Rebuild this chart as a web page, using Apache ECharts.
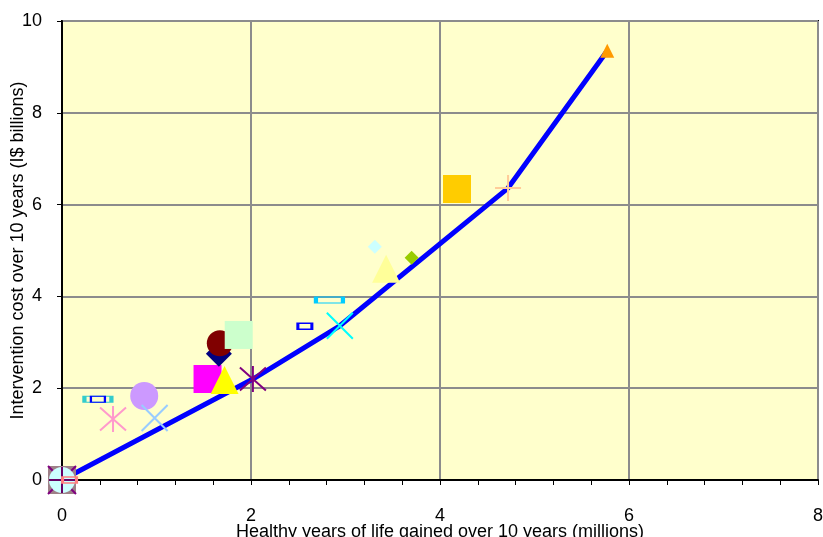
<!DOCTYPE html>
<html>
<head>
<meta charset="utf-8">
<script src="https://cdn.jsdelivr.net/npm/echarts@6/dist/echarts.min.js"></script>
<style>
  html, body { margin: 0; padding: 0; background: #ffffff; overflow: hidden; }
  #chart { width: 823px; height: 537px; }
</style>
</head>
<body>
<div id="chart"></div>
<script>
// Interventions: healthy years gained (millions) vs cost (I$ billions)
const healthyYears = [0, 0, 0, 0, 0.08, 0.38, 0.38, 0.54, 0.87, 0.98, 1.54, 1.72, 1.66, 1.67, 1.87, 2.02, 2.57, 2.83, 2.94, 3.31, 3.43, 3.70, 4.18, 4.72, 5.77];
const costBillions = [0, 0, 0, 0, 0, 1.76, 1.76, 1.33, 1.83, 1.35, 2.20, 2.18, 2.75, 2.98, 3.16, 2.20, 3.35, 3.92, 3.36, 5.08, 4.60, 4.84, 6.34, 6.36, 9.35];

// Expansion path of the most cost-effective combinations
const pathX = [0, 2.02, 2.94, 4.72, 5.77];
const pathY = [0, 2.20, 3.36, 6.36, 9.35];

// Axis ticks
const xTicks = [0, 2, 4, 6, 8];
const yTicks = [0, 2, 4, 6, 8, 10];

// Marker appearance, one entry per intervention
const X_PATH = 'path://M0,0L10,10M10,0L0,10';
const PLUS_PATH = 'path://M5,0L5,10M0,5L10,5';
const STAR_PATH = 'path://M5,0L5,10M0,0.6L10,9.4M10,0.6L0,9.4';
const markerStyles = [
  { symbol: 'rect', size: 28, fill: '#9e8088' },
  { symbol: X_PATH, size: 28, line: '#800080', lw: 2 },
  { symbol: 'circle', size: 26, fill: '#ccffff' },
  { symbol: PLUS_PATH, size: 26, line: '#660066', lw: 2 },
  { symbol: 'rect', size: [14, 6], line: '#ff8080', lw: 2 },
  { symbol: 'rect', size: [27, 6], line: '#33cccc', lw: 2 },
  { symbol: 'rect', size: [14, 6], line: '#0000ff', lw: 1.5 },
  { symbol: STAR_PATH, size: 26, line: '#ff99cc', lw: 2 },
  { symbol: 'circle', size: 28, fill: '#cc99ff' },
  { symbol: X_PATH, size: 26, line: '#99ccff', lw: 2 },
  { symbol: 'rect', size: 28, fill: '#ff00ff' },
  { symbol: 'triangle', size: 28, fill: '#ffff00' },
  { symbol: 'diamond', size: 26, fill: '#000080' },
  { symbol: 'circle', size: 26, fill: '#800000' },
  { symbol: 'rect', size: 28, fill: '#ccffcc' },
  { symbol: STAR_PATH, size: 26, line: '#800080', lw: 2 },
  { symbol: 'rect', size: [14, 6], line: '#0000ff', lw: 2 },
  { symbol: 'rect', size: [27, 6], line: '#00ccff', lw: 2 },
  { symbol: X_PATH, size: 26, line: '#00ffff', lw: 2 },
  { symbol: 'diamond', size: 14, fill: '#ccffff' },
  { symbol: 'triangle', size: 28, fill: '#ffff99' },
  { symbol: 'diamond', size: 14, fill: '#99cc00' },
  { symbol: 'rect', size: 28, fill: '#ffcc00' },
  { symbol: PLUS_PATH, size: 26, line: '#ffcc99', lw: 2 },
  { symbol: 'triangle', size: 14, fill: '#ff9900' }
];

const scatterData = healthyYears.map(function (x, i) {
  const s = markerStyles[i];
  return {
    value: [x, costBillions[i]],
    symbol: s.symbol,
    symbolSize: s.size,
    itemStyle: s.fill
      ? { color: s.fill, borderWidth: 0, opacity: 1 }
      : { color: 'none', borderColor: s.line, borderWidth: s.lw, opacity: 1 }
  };
});

const font = 'Liberation Sans, Arial, sans-serif';
const chart = echarts.init(document.getElementById('chart'), null, { renderer: 'canvas', width: 823, height: 537 });
chart.setOption({
  animation: false,
  backgroundColor: '#ffffff',
  grid: {
    left: 62, top: 21, width: 756, height: 459,
    containLabel: false, outerBoundsMode: 'none',
    show: true, backgroundColor: '#ffffcc', borderColor: '#000000', borderWidth: 2
  },
  xAxis: {
    type: 'value', min: xTicks[0], max: xTicks[xTicks.length - 1], interval: 2,
    name: 'Healthy years of life gained over 10 years (millions)',
    nameLocation: 'middle', nameGap: 43, nameMoveOverlap: false,
    nameTextStyle: { fontFamily: font, fontSize: 18, color: '#000' },
    axisLine: { show: true, onZero: false, lineStyle: { color: '#000', width: 2 } },
    axisTick: { show: true, inside: false, length: 5, lineStyle: { color: '#000', width: 1 } },
    minorTick: { show: true, splitNumber: 5, length: 5, lineStyle: { color: '#000', width: 1 } },
    axisLabel: { fontFamily: font, fontSize: 18, color: '#000', margin: 27 },
    splitLine: { show: true, lineStyle: { color: '#8c8c8c', width: 2 } }
  },
  yAxis: {
    type: 'value', min: yTicks[0], max: yTicks[yTicks.length - 1], interval: 2,
    name: 'Intervention cost over 10 years (I$ billions)',
    nameLocation: 'middle', nameGap: 35, nameRotate: 90, nameMoveOverlap: false,
    nameTextStyle: { fontFamily: font, fontSize: 18, color: '#000' },
    axisLine: { show: true, onZero: false, lineStyle: { color: '#000', width: 2 } },
    axisTick: { show: true, inside: false, length: 5, lineStyle: { color: '#000', width: 1 } },
    axisLabel: { fontFamily: font, fontSize: 18, color: '#000', margin: 20 },
    splitLine: { show: true, lineStyle: { color: '#8c8c8c', width: 2 } }
  },
  series: [
    {
      type: 'line',
      data: pathX.map(function (x, i) { return [x, pathY[i]]; }),
      showSymbol: false,
      lineStyle: { color: '#0000ff', width: 5 },
      z: 2
    },
    {
      type: 'scatter',
      data: scatterData,
      symbolKeepAspect: false,
      z: 3
    }
  ]
});
</script>
</body>
</html>
